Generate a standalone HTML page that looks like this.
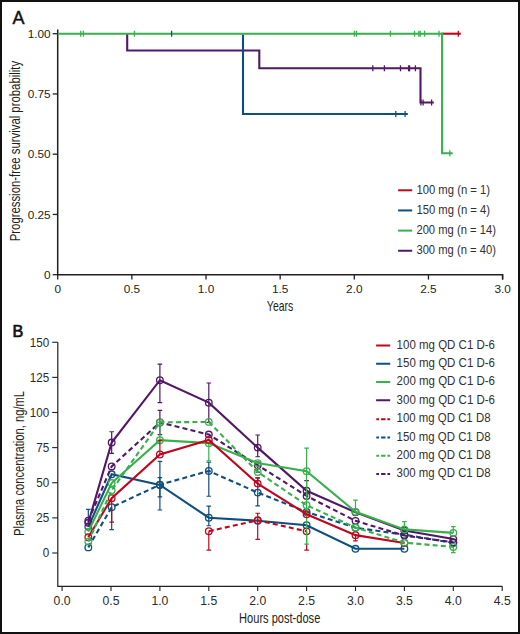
<!DOCTYPE html><html><head><meta charset="utf-8"><style>html,body{margin:0;padding:0;background:#fff;width:520px;height:634px;overflow:hidden}</style></head><body><svg width="520" height="634" viewBox="0 0 520 634" style="display:block" font-family='"Liberation Sans", sans-serif'>
<rect x="0" y="0" width="520" height="634" fill="#fff"/>
<rect x="1" y="1" width="518" height="632" fill="none" stroke="#111" stroke-width="2"/>
<text x="12.6" y="23.6" font-size="18" text-anchor="start" fill="#111" stroke="#111" stroke-width="0.45">A</text>
<path d="M57.7 29.6 V274.7 H502.6 V279.6" fill="none" stroke="#231f20" stroke-width="1.5"/>
<path d="M52.7 274.70 H57.7" stroke="#231f20" stroke-width="1.3"/>
<text x="50.6" y="278.8" font-size="11.8" text-anchor="end" fill="#231f20" >0</text>
<path d="M52.7 214.45 H57.7" stroke="#231f20" stroke-width="1.3"/>
<text x="50.6" y="218.54999999999998" font-size="11.8" text-anchor="end" fill="#231f20" >0.25</text>
<path d="M52.7 154.20 H57.7" stroke="#231f20" stroke-width="1.3"/>
<text x="50.6" y="158.29999999999998" font-size="11.8" text-anchor="end" fill="#231f20" >0.50</text>
<path d="M52.7 93.95 H57.7" stroke="#231f20" stroke-width="1.3"/>
<text x="50.6" y="98.04999999999998" font-size="11.8" text-anchor="end" fill="#231f20" >0.75</text>
<path d="M52.7 33.70 H57.7" stroke="#231f20" stroke-width="1.3"/>
<text x="50.6" y="37.79999999999999" font-size="11.8" text-anchor="end" fill="#231f20" >1.00</text>
<path d="M57.70 274.7 V279.6" stroke="#231f20" stroke-width="1.3"/>
<text x="57.7" y="293" font-size="11.8" text-anchor="middle" fill="#231f20" >0</text>
<path d="M131.85 274.7 V279.6" stroke="#231f20" stroke-width="1.3"/>
<text x="131.85000000000002" y="293" font-size="11.8" text-anchor="middle" fill="#231f20" >0.5</text>
<path d="M206.00 274.7 V279.6" stroke="#231f20" stroke-width="1.3"/>
<text x="206.0" y="293" font-size="11.8" text-anchor="middle" fill="#231f20" >1.0</text>
<path d="M280.15 274.7 V279.6" stroke="#231f20" stroke-width="1.3"/>
<text x="280.15000000000003" y="293" font-size="11.8" text-anchor="middle" fill="#231f20" >1.5</text>
<path d="M354.30 274.7 V279.6" stroke="#231f20" stroke-width="1.3"/>
<text x="354.3" y="293" font-size="11.8" text-anchor="middle" fill="#231f20" >2.0</text>
<path d="M428.45 274.7 V279.6" stroke="#231f20" stroke-width="1.3"/>
<text x="428.45" y="293" font-size="11.8" text-anchor="middle" fill="#231f20" >2.5</text>
<path d="M502.60 274.7 V279.6" stroke="#231f20" stroke-width="1.3"/>
<text x="502.6" y="293" font-size="11.8" text-anchor="middle" fill="#231f20" >3.0</text>
<text transform="translate(19.7,151.1) rotate(-90) scale(0.80,1)" font-size="14.2" text-anchor="middle" fill="#231f20">Progression-free survival probability</text>
<text transform="translate(280.1,310.6) scale(0.74,1)" font-size="14.2" text-anchor="middle" fill="#231f20">Years</text>
<path d="M441 33.7 H460.8" fill="none" stroke="#bf061d" stroke-width="2.1"/>
<path d="M458.30 30.70 V36.70" stroke="#bf061d" stroke-width="1.3"/>
<path d="M127.2 33.7 V50.5 H259.3 V68.3 H420.5 V102.5 H433.8" fill="none" stroke="#521766" stroke-width="2.1"/>
<path d="M372.80 65.30 V71.30" stroke="#521766" stroke-width="1.3"/>
<path d="M384.40 65.30 V71.30" stroke="#521766" stroke-width="1.3"/>
<path d="M400.50 65.30 V71.30" stroke="#521766" stroke-width="1.3"/>
<path d="M408.60 65.30 V71.30" stroke="#521766" stroke-width="1.3"/>
<path d="M409.60 65.30 V71.30" stroke="#521766" stroke-width="1.3"/>
<path d="M415.40 65.30 V71.30" stroke="#521766" stroke-width="1.3"/>
<path d="M420.90 99.50 V105.50" stroke="#521766" stroke-width="1.3"/>
<path d="M423.10 99.50 V105.50" stroke="#521766" stroke-width="1.3"/>
<path d="M431.60 99.50 V105.50" stroke="#521766" stroke-width="1.3"/>
<path d="M57.7 33.7 H442.1 V153.3 H452.7" fill="none" stroke="#38b04b" stroke-width="2.1"/>
<path d="M80.80 30.70 V36.70" stroke="#38b04b" stroke-width="1.3"/>
<path d="M83.40 30.70 V36.70" stroke="#38b04b" stroke-width="1.3"/>
<path d="M134.40 30.70 V36.70" stroke="#38b04b" stroke-width="1.3"/>
<path d="M354.40 30.70 V36.70" stroke="#38b04b" stroke-width="1.3"/>
<path d="M356.50 30.70 V36.70" stroke="#38b04b" stroke-width="1.3"/>
<path d="M390.40 30.70 V36.70" stroke="#38b04b" stroke-width="1.3"/>
<path d="M414.50 30.70 V36.70" stroke="#38b04b" stroke-width="1.3"/>
<path d="M418.80 30.70 V36.70" stroke="#38b04b" stroke-width="1.3"/>
<path d="M420.20 30.70 V36.70" stroke="#38b04b" stroke-width="1.3"/>
<path d="M424.60 30.70 V36.70" stroke="#38b04b" stroke-width="1.3"/>
<path d="M439.00 30.70 V36.70" stroke="#38b04b" stroke-width="1.3"/>
<path d="M449.80 150.30 V156.30" stroke="#38b04b" stroke-width="1.3"/>
<path d="M243 34.7 V114 H407.8" fill="none" stroke="#0e4e80" stroke-width="2.1"/>
<path d="M171.60 30.70 V36.70" stroke="#0e4e80" stroke-width="1.3"/>
<path d="M395.80 111.00 V117.00" stroke="#0e4e80" stroke-width="1.3"/>
<path d="M405.10 111.00 V117.00" stroke="#0e4e80" stroke-width="1.3"/>
<path d="M398.1 190.30 H412.2" stroke="#bf061d" stroke-width="2"/>
<text x="416.4" y="193.6" font-size="12.2" text-anchor="start" fill="#303030" textLength="73.7" lengthAdjust="spacingAndGlyphs" >100 mg (n = 1)</text>
<path d="M398.1 210.45 H412.2" stroke="#0e4e80" stroke-width="2"/>
<text x="416.4" y="213.75" font-size="12.2" text-anchor="start" fill="#303030" textLength="73.7" lengthAdjust="spacingAndGlyphs" >150 mg (n = 4)</text>
<path d="M398.1 230.60 H412.2" stroke="#38b04b" stroke-width="2"/>
<text x="416.4" y="233.89999999999998" font-size="12.2" text-anchor="start" fill="#303030" textLength="79.5" lengthAdjust="spacingAndGlyphs" >200 mg (n = 14)</text>
<path d="M398.1 250.75 H412.2" stroke="#521766" stroke-width="2"/>
<text x="416.4" y="254.04999999999998" font-size="12.2" text-anchor="start" fill="#303030" textLength="79.5" lengthAdjust="spacingAndGlyphs" >300 mg (n = 40)</text>
<text x="12.4" y="336.6" font-size="16.2" text-anchor="start" fill="#111" stroke="#111" stroke-width="0.7">B</text>
<path d="M57.8 342.2 V586.3 H502.3" fill="none" stroke="#231f20" stroke-width="1.2"/>
<path d="M52.2 553.00 H57.8" stroke="#231f20" stroke-width="1.1"/>
<text x="49.3" y="557.3" font-size="12.4" text-anchor="end" fill="#2a2a2a" textLength="6.48" lengthAdjust="spacingAndGlyphs" >0</text>
<path d="M52.2 517.88 H57.8" stroke="#231f20" stroke-width="1.1"/>
<text x="49.3" y="522.175" font-size="12.4" text-anchor="end" fill="#2a2a2a" textLength="12.97" lengthAdjust="spacingAndGlyphs" >25</text>
<path d="M52.2 482.75 H57.8" stroke="#231f20" stroke-width="1.1"/>
<text x="49.3" y="487.05" font-size="12.4" text-anchor="end" fill="#2a2a2a" textLength="12.97" lengthAdjust="spacingAndGlyphs" >50</text>
<path d="M52.2 447.62 H57.8" stroke="#231f20" stroke-width="1.1"/>
<text x="49.3" y="451.925" font-size="12.4" text-anchor="end" fill="#2a2a2a" textLength="12.97" lengthAdjust="spacingAndGlyphs" >75</text>
<path d="M52.2 412.50 H57.8" stroke="#231f20" stroke-width="1.1"/>
<text x="49.3" y="416.8" font-size="12.4" text-anchor="end" fill="#2a2a2a" textLength="19.45" lengthAdjust="spacingAndGlyphs" >100</text>
<path d="M52.2 377.38 H57.8" stroke="#231f20" stroke-width="1.1"/>
<text x="49.3" y="381.675" font-size="12.4" text-anchor="end" fill="#2a2a2a" textLength="19.45" lengthAdjust="spacingAndGlyphs" >125</text>
<path d="M52.2 342.25 H57.8" stroke="#231f20" stroke-width="1.1"/>
<text x="49.3" y="346.55" font-size="12.4" text-anchor="end" fill="#2a2a2a" textLength="19.45" lengthAdjust="spacingAndGlyphs" >150</text>
<path d="M62.10 586.3 V591" stroke="#231f20" stroke-width="1.1"/>
<text x="62.1" y="604.7" font-size="12.4" text-anchor="middle" fill="#2a2a2a" textLength="16.98" lengthAdjust="spacingAndGlyphs" >0.0</text>
<path d="M111.00 586.3 V591" stroke="#231f20" stroke-width="1.1"/>
<text x="111.0" y="604.7" font-size="12.4" text-anchor="middle" fill="#2a2a2a" textLength="16.98" lengthAdjust="spacingAndGlyphs" >0.5</text>
<path d="M159.90 586.3 V591" stroke="#231f20" stroke-width="1.1"/>
<text x="159.9" y="604.7" font-size="12.4" text-anchor="middle" fill="#2a2a2a" textLength="16.98" lengthAdjust="spacingAndGlyphs" >1.0</text>
<path d="M208.80 586.3 V591" stroke="#231f20" stroke-width="1.1"/>
<text x="208.79999999999998" y="604.7" font-size="12.4" text-anchor="middle" fill="#2a2a2a" textLength="16.98" lengthAdjust="spacingAndGlyphs" >1.5</text>
<path d="M257.70 586.3 V591" stroke="#231f20" stroke-width="1.1"/>
<text x="257.7" y="604.7" font-size="12.4" text-anchor="middle" fill="#2a2a2a" textLength="16.98" lengthAdjust="spacingAndGlyphs" >2.0</text>
<path d="M306.60 586.3 V591" stroke="#231f20" stroke-width="1.1"/>
<text x="306.6" y="604.7" font-size="12.4" text-anchor="middle" fill="#2a2a2a" textLength="16.98" lengthAdjust="spacingAndGlyphs" >2.5</text>
<path d="M355.50 586.3 V591" stroke="#231f20" stroke-width="1.1"/>
<text x="355.5" y="604.7" font-size="12.4" text-anchor="middle" fill="#2a2a2a" textLength="16.98" lengthAdjust="spacingAndGlyphs" >3.0</text>
<path d="M404.40 586.3 V591" stroke="#231f20" stroke-width="1.1"/>
<text x="404.40000000000003" y="604.7" font-size="12.4" text-anchor="middle" fill="#2a2a2a" textLength="16.98" lengthAdjust="spacingAndGlyphs" >3.5</text>
<path d="M453.30 586.3 V591" stroke="#231f20" stroke-width="1.1"/>
<text x="453.3" y="604.7" font-size="12.4" text-anchor="middle" fill="#2a2a2a" textLength="16.98" lengthAdjust="spacingAndGlyphs" >4.0</text>
<path d="M502.20 586.3 V591" stroke="#231f20" stroke-width="1.1"/>
<text x="502.2" y="604.7" font-size="12.4" text-anchor="middle" fill="#2a2a2a" textLength="16.98" lengthAdjust="spacingAndGlyphs" >4.5</text>
<text transform="translate(23.9,463.5) rotate(-90) scale(0.79,1)" font-size="14.2" text-anchor="middle" fill="#231f20">Plasma concentration, ng/mL</text>
<text transform="translate(279.7,622.7) scale(0.78,1)" font-size="14.2" text-anchor="middle" fill="#231f20">Hours post-dose</text>
<path d="M88.31 526.87 V509.44 M86.01 509.44 H90.61" fill="none" stroke="#0e4e80" stroke-width="1.2"/>
<path d="M159.90 485.00 V461.39 M157.60 461.39 H162.20" fill="none" stroke="#0e4e80" stroke-width="1.2"/>
<path d="M159.90 485.00 V510.01 M157.60 510.01 H162.20" fill="none" stroke="#0e4e80" stroke-width="1.2"/>
<path d="M208.80 517.73 V506.21 M206.50 506.21 H211.10" fill="none" stroke="#0e4e80" stroke-width="1.2"/>
<path d="M208.80 517.73 V525.74 M206.50 525.74 H211.10" fill="none" stroke="#0e4e80" stroke-width="1.2"/>
<path d="M88.31 526.87 L111.68 474.32 L159.90 485.00 L208.80 517.73 L257.70 520.68 L306.60 525.18 L355.50 548.78 L404.40 548.78" fill="none" stroke="#0e4e80" stroke-width="2.1"/>
<circle cx="88.31" cy="526.87" r="3.3" fill="none" stroke="#0e4e80" stroke-width="1.3"/>
<circle cx="111.68" cy="474.32" r="3.3" fill="none" stroke="#0e4e80" stroke-width="1.3"/>
<circle cx="159.90" cy="485.00" r="3.3" fill="none" stroke="#0e4e80" stroke-width="1.3"/>
<circle cx="208.80" cy="517.73" r="3.3" fill="none" stroke="#0e4e80" stroke-width="1.3"/>
<circle cx="257.70" cy="520.68" r="3.3" fill="none" stroke="#0e4e80" stroke-width="1.3"/>
<circle cx="306.60" cy="525.18" r="3.3" fill="none" stroke="#0e4e80" stroke-width="1.3"/>
<circle cx="355.50" cy="548.78" r="3.3" fill="none" stroke="#0e4e80" stroke-width="1.3"/>
<circle cx="404.40" cy="548.78" r="3.3" fill="none" stroke="#0e4e80" stroke-width="1.3"/>
<path d="M111.68 507.20 V529.54 M109.38 529.54 H113.98" fill="none" stroke="#0e4e80" stroke-width="1.2"/>
<path d="M159.90 484.72 V477.69 M157.60 477.69 H162.20" fill="none" stroke="#0e4e80" stroke-width="1.2"/>
<path d="M159.90 484.72 V496.94 M157.60 496.94 H162.20" fill="none" stroke="#0e4e80" stroke-width="1.2"/>
<path d="M208.80 470.95 V462.24 M206.50 462.24 H211.10" fill="none" stroke="#0e4e80" stroke-width="1.2"/>
<path d="M208.80 470.95 V496.24 M206.50 496.24 H211.10" fill="none" stroke="#0e4e80" stroke-width="1.2"/>
<path d="M257.70 492.58 V477.83 M255.40 477.83 H260.00" fill="none" stroke="#0e4e80" stroke-width="1.2"/>
<path d="M257.70 492.58 V505.93 M255.40 505.93 H260.00" fill="none" stroke="#0e4e80" stroke-width="1.2"/>
<path d="M88.31 547.38 L111.68 507.20 L159.90 484.72 L208.80 470.95 L257.70 492.58 L306.60 511.97 L355.50 527.71 L404.40 534.74 L453.30 542.88" fill="none" stroke="#0e4e80" stroke-width="2.1" stroke-dasharray="5 3.2"/>
<circle cx="88.31" cy="547.38" r="3.3" fill="none" stroke="#0e4e80" stroke-width="1.3"/>
<circle cx="111.68" cy="507.20" r="3.3" fill="none" stroke="#0e4e80" stroke-width="1.3"/>
<circle cx="159.90" cy="484.72" r="3.3" fill="none" stroke="#0e4e80" stroke-width="1.3"/>
<circle cx="208.80" cy="470.95" r="3.3" fill="none" stroke="#0e4e80" stroke-width="1.3"/>
<circle cx="257.70" cy="492.58" r="3.3" fill="none" stroke="#0e4e80" stroke-width="1.3"/>
<circle cx="306.60" cy="511.97" r="3.3" fill="none" stroke="#0e4e80" stroke-width="1.3"/>
<circle cx="355.50" cy="527.71" r="3.3" fill="none" stroke="#0e4e80" stroke-width="1.3"/>
<circle cx="404.40" cy="534.74" r="3.3" fill="none" stroke="#0e4e80" stroke-width="1.3"/>
<circle cx="453.30" cy="542.88" r="3.3" fill="none" stroke="#0e4e80" stroke-width="1.3"/>
<path d="M159.90 422.48 V410.39 M157.60 410.39 H162.20" fill="none" stroke="#521766" stroke-width="1.2"/>
<path d="M159.90 422.48 V434.56 M157.60 434.56 H162.20" fill="none" stroke="#521766" stroke-width="1.2"/>
<path d="M257.70 465.19 V472.21 M255.40 472.21 H260.00" fill="none" stroke="#521766" stroke-width="1.2"/>
<path d="M306.60 495.96 V480.64 M304.30 480.64 H308.90" fill="none" stroke="#521766" stroke-width="1.2"/>
<path d="M88.31 520.68 L111.68 466.45 L159.90 422.48 L208.80 434.56 L257.70 465.19 L306.60 495.96 L355.50 520.83 L404.40 535.58 L453.30 542.32" fill="none" stroke="#521766" stroke-width="2.1" stroke-dasharray="5 3.2"/>
<circle cx="88.31" cy="520.68" r="3.3" fill="none" stroke="#521766" stroke-width="1.3"/>
<circle cx="111.68" cy="466.45" r="3.3" fill="none" stroke="#521766" stroke-width="1.3"/>
<circle cx="159.90" cy="422.48" r="3.3" fill="none" stroke="#521766" stroke-width="1.3"/>
<circle cx="208.80" cy="434.56" r="3.3" fill="none" stroke="#521766" stroke-width="1.3"/>
<circle cx="257.70" cy="465.19" r="3.3" fill="none" stroke="#521766" stroke-width="1.3"/>
<circle cx="306.60" cy="495.96" r="3.3" fill="none" stroke="#521766" stroke-width="1.3"/>
<circle cx="355.50" cy="520.83" r="3.3" fill="none" stroke="#521766" stroke-width="1.3"/>
<circle cx="404.40" cy="535.58" r="3.3" fill="none" stroke="#521766" stroke-width="1.3"/>
<circle cx="453.30" cy="542.32" r="3.3" fill="none" stroke="#521766" stroke-width="1.3"/>
<path d="M111.68 442.57 V431.75 M109.38 431.75 H113.98" fill="none" stroke="#521766" stroke-width="1.2"/>
<path d="M111.68 442.57 V453.39 M109.38 453.39 H113.98" fill="none" stroke="#521766" stroke-width="1.2"/>
<path d="M159.90 380.19 V364.03 M157.60 364.03 H162.20" fill="none" stroke="#521766" stroke-width="1.2"/>
<path d="M159.90 380.19 V402.66 M157.60 402.66 H162.20" fill="none" stroke="#521766" stroke-width="1.2"/>
<path d="M208.80 402.66 V383.00 M206.50 383.00 H211.10" fill="none" stroke="#521766" stroke-width="1.2"/>
<path d="M208.80 402.66 V422.34 M206.50 422.34 H211.10" fill="none" stroke="#521766" stroke-width="1.2"/>
<path d="M257.70 447.62 V434.98 M255.40 434.98 H260.00" fill="none" stroke="#521766" stroke-width="1.2"/>
<path d="M257.70 447.62 V456.76 M255.40 456.76 H260.00" fill="none" stroke="#521766" stroke-width="1.2"/>
<path d="M88.31 522.79 L111.68 442.57 L159.90 380.19 L208.80 402.66 L257.70 447.62 L306.60 490.76 L355.50 512.25 L404.40 530.52 L453.30 539.09" fill="none" stroke="#521766" stroke-width="2.1"/>
<circle cx="88.31" cy="522.79" r="3.3" fill="none" stroke="#521766" stroke-width="1.3"/>
<circle cx="111.68" cy="442.57" r="3.3" fill="none" stroke="#521766" stroke-width="1.3"/>
<circle cx="159.90" cy="380.19" r="3.3" fill="none" stroke="#521766" stroke-width="1.3"/>
<circle cx="208.80" cy="402.66" r="3.3" fill="none" stroke="#521766" stroke-width="1.3"/>
<circle cx="257.70" cy="447.62" r="3.3" fill="none" stroke="#521766" stroke-width="1.3"/>
<circle cx="306.60" cy="490.76" r="3.3" fill="none" stroke="#521766" stroke-width="1.3"/>
<circle cx="355.50" cy="512.25" r="3.3" fill="none" stroke="#521766" stroke-width="1.3"/>
<circle cx="404.40" cy="530.52" r="3.3" fill="none" stroke="#521766" stroke-width="1.3"/>
<circle cx="453.30" cy="539.09" r="3.3" fill="none" stroke="#521766" stroke-width="1.3"/>
<path d="M208.80 531.22 V550.19 M206.50 550.19 H211.10" fill="none" stroke="#bf061d" stroke-width="1.2"/>
<path d="M257.70 520.26 V513.24 M255.40 513.24 H260.00" fill="none" stroke="#bf061d" stroke-width="1.2"/>
<path d="M257.70 520.26 V539.37 M255.40 539.37 H260.00" fill="none" stroke="#bf061d" stroke-width="1.2"/>
<path d="M306.60 531.36 V550.19 M304.30 550.19 H308.90" fill="none" stroke="#bf061d" stroke-width="1.2"/>
<path d="M208.80 531.22 L257.70 520.26 L306.60 531.36" fill="none" stroke="#bf061d" stroke-width="2.1" stroke-dasharray="5 3.2"/>
<circle cx="208.80" cy="531.22" r="3.3" fill="none" stroke="#bf061d" stroke-width="1.3"/>
<circle cx="257.70" cy="520.26" r="3.3" fill="none" stroke="#bf061d" stroke-width="1.3"/>
<circle cx="306.60" cy="531.36" r="3.3" fill="none" stroke="#bf061d" stroke-width="1.3"/>
<path d="M159.90 440.18 V422.34 M157.60 422.34 H162.20" fill="none" stroke="#38b04b" stroke-width="1.2"/>
<path d="M208.80 443.13 V460.97 M206.50 460.97 H211.10" fill="none" stroke="#38b04b" stroke-width="1.2"/>
<path d="M306.60 471.23 V448.05 M304.30 448.05 H308.90" fill="none" stroke="#38b04b" stroke-width="1.2"/>
<path d="M306.60 471.23 V544.15 M304.30 544.15 H308.90" fill="none" stroke="#38b04b" stroke-width="1.2"/>
<path d="M355.50 511.83 V500.17 M353.20 500.17 H357.80" fill="none" stroke="#38b04b" stroke-width="1.2"/>
<path d="M404.40 529.40 V521.67 M402.10 521.67 H406.70" fill="none" stroke="#38b04b" stroke-width="1.2"/>
<path d="M453.30 532.91 V526.59 M451.00 526.59 H455.60" fill="none" stroke="#38b04b" stroke-width="1.2"/>
<path d="M88.31 531.64 L111.68 483.03 L159.90 440.18 L208.80 443.13 L257.70 463.08 L306.60 471.23 L355.50 511.83 L404.40 529.40 L453.30 532.91" fill="none" stroke="#38b04b" stroke-width="2.1"/>
<circle cx="88.31" cy="531.64" r="3.3" fill="none" stroke="#38b04b" stroke-width="1.3"/>
<circle cx="111.68" cy="483.03" r="3.3" fill="none" stroke="#38b04b" stroke-width="1.3"/>
<circle cx="159.90" cy="440.18" r="3.3" fill="none" stroke="#38b04b" stroke-width="1.3"/>
<circle cx="208.80" cy="443.13" r="3.3" fill="none" stroke="#38b04b" stroke-width="1.3"/>
<circle cx="257.70" cy="463.08" r="3.3" fill="none" stroke="#38b04b" stroke-width="1.3"/>
<circle cx="306.60" cy="471.23" r="3.3" fill="none" stroke="#38b04b" stroke-width="1.3"/>
<circle cx="355.50" cy="511.83" r="3.3" fill="none" stroke="#38b04b" stroke-width="1.3"/>
<circle cx="404.40" cy="529.40" r="3.3" fill="none" stroke="#38b04b" stroke-width="1.3"/>
<circle cx="453.30" cy="532.91" r="3.3" fill="none" stroke="#38b04b" stroke-width="1.3"/>
<path d="M111.68 498.20 V522.09 M109.38 522.09 H113.98" fill="none" stroke="#bf061d" stroke-width="1.2"/>
<path d="M159.90 454.51 V440.46 M157.60 440.46 H162.20" fill="none" stroke="#bf061d" stroke-width="1.2"/>
<path d="M257.70 483.59 V477.97 M255.40 477.97 H260.00" fill="none" stroke="#bf061d" stroke-width="1.2"/>
<path d="M355.50 535.16 V540.78 M353.20 540.78 H357.80" fill="none" stroke="#bf061d" stroke-width="1.2"/>
<path d="M88.31 537.26 L111.68 498.20 L159.90 454.51 L208.80 439.90 L257.70 483.59 L306.60 514.22 L355.50 535.16 L404.40 543.02" fill="none" stroke="#bf061d" stroke-width="2.1"/>
<circle cx="88.31" cy="537.26" r="3.3" fill="none" stroke="#bf061d" stroke-width="1.3"/>
<circle cx="111.68" cy="498.20" r="3.3" fill="none" stroke="#bf061d" stroke-width="1.3"/>
<circle cx="159.90" cy="454.51" r="3.3" fill="none" stroke="#bf061d" stroke-width="1.3"/>
<circle cx="208.80" cy="439.90" r="3.3" fill="none" stroke="#bf061d" stroke-width="1.3"/>
<circle cx="257.70" cy="483.59" r="3.3" fill="none" stroke="#bf061d" stroke-width="1.3"/>
<circle cx="306.60" cy="514.22" r="3.3" fill="none" stroke="#bf061d" stroke-width="1.3"/>
<circle cx="355.50" cy="535.16" r="3.3" fill="none" stroke="#bf061d" stroke-width="1.3"/>
<circle cx="404.40" cy="543.02" r="3.3" fill="none" stroke="#bf061d" stroke-width="1.3"/>
<path d="M453.30 546.96 V552.58 M451.00 552.58 H455.60" fill="none" stroke="#38b04b" stroke-width="1.2"/>
<path d="M88.31 541.62 L111.68 490.34 L159.90 422.34 L208.80 421.91 L257.70 471.93 L306.60 505.23 L355.50 527.57 L404.40 542.60 L453.30 546.96" fill="none" stroke="#38b04b" stroke-width="2.1" stroke-dasharray="5 3.2"/>
<circle cx="88.31" cy="541.62" r="3.3" fill="none" stroke="#38b04b" stroke-width="1.3"/>
<circle cx="111.68" cy="490.34" r="3.3" fill="none" stroke="#38b04b" stroke-width="1.3"/>
<circle cx="159.90" cy="422.34" r="3.3" fill="none" stroke="#38b04b" stroke-width="1.3"/>
<circle cx="208.80" cy="421.91" r="3.3" fill="none" stroke="#38b04b" stroke-width="1.3"/>
<circle cx="257.70" cy="471.93" r="3.3" fill="none" stroke="#38b04b" stroke-width="1.3"/>
<circle cx="306.60" cy="505.23" r="3.3" fill="none" stroke="#38b04b" stroke-width="1.3"/>
<circle cx="355.50" cy="527.57" r="3.3" fill="none" stroke="#38b04b" stroke-width="1.3"/>
<circle cx="404.40" cy="542.60" r="3.3" fill="none" stroke="#38b04b" stroke-width="1.3"/>
<circle cx="453.30" cy="546.96" r="3.3" fill="none" stroke="#38b04b" stroke-width="1.3"/>
<path d="M376.1 345.50 H390.2" stroke="#bf061d" stroke-width="2"/>
<text x="396.6" y="348.95" font-size="12" text-anchor="start" fill="#303030" textLength="98.4" lengthAdjust="spacingAndGlyphs" >100 mg QD C1 D-6</text>
<path d="M376.1 363.75 H390.2" stroke="#0e4e80" stroke-width="2"/>
<text x="396.6" y="367.2" font-size="12" text-anchor="start" fill="#303030" textLength="98.4" lengthAdjust="spacingAndGlyphs" >150 mg QD C1 D-6</text>
<path d="M376.1 382.00 H390.2" stroke="#38b04b" stroke-width="2"/>
<text x="396.6" y="385.45" font-size="12" text-anchor="start" fill="#303030" textLength="98.4" lengthAdjust="spacingAndGlyphs" >200 mg QD C1 D-6</text>
<path d="M376.1 400.25 H390.2" stroke="#521766" stroke-width="2"/>
<text x="396.6" y="403.7" font-size="12" text-anchor="start" fill="#303030" textLength="98.4" lengthAdjust="spacingAndGlyphs" >300 mg QD C1 D-6</text>
<path d="M376.3 419.20 H379 M381.1 419.20 H385.5 M387.4 419.20 H390.1" stroke="#bf061d" stroke-width="2.1"/>
<text x="396.6" y="422.25" font-size="12" text-anchor="start" fill="#303030" textLength="93.9" lengthAdjust="spacingAndGlyphs" >100 mg QD C1 D8</text>
<path d="M376.3 437.45 H379 M381.1 437.45 H385.5 M387.4 437.45 H390.1" stroke="#0e4e80" stroke-width="2.1"/>
<text x="396.6" y="440.5" font-size="12" text-anchor="start" fill="#303030" textLength="93.9" lengthAdjust="spacingAndGlyphs" >150 mg QD C1 D8</text>
<path d="M376.3 455.70 H379 M381.1 455.70 H385.5 M387.4 455.70 H390.1" stroke="#38b04b" stroke-width="2.1"/>
<text x="396.6" y="458.75" font-size="12" text-anchor="start" fill="#303030" textLength="93.9" lengthAdjust="spacingAndGlyphs" >200 mg QD C1 D8</text>
<path d="M376.3 473.95 H379 M381.1 473.95 H385.5 M387.4 473.95 H390.1" stroke="#521766" stroke-width="2.1"/>
<text x="396.6" y="477.0" font-size="12" text-anchor="start" fill="#303030" textLength="93.9" lengthAdjust="spacingAndGlyphs" >300 mg QD C1 D8</text>
</svg></body></html>
